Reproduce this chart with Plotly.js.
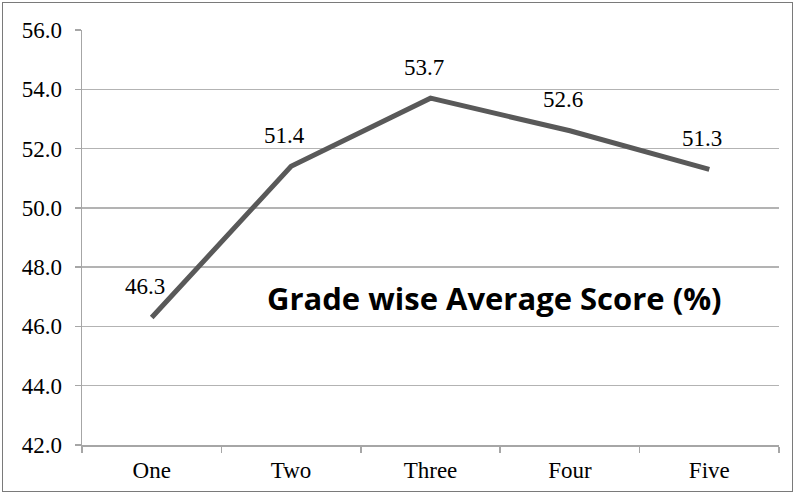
<!DOCTYPE html>
<html>
<head>
<meta charset="utf-8">
<script src="https://cdn.plot.ly/plotly-3.0.1.min.js"></script>
<style>
html,body{margin:0;padding:0;background:#fff;}
#frame{position:absolute;left:2px;top:2px;width:789px;height:488px;border:1.5px solid #7a7a7a;pointer-events:none;z-index:10;}
#chart{position:absolute;left:0;top:0;width:795px;height:494px;}
</style>
</head>
<body>
<div id="chart"></div>
<div id="frame"></div>
<script>
const grades = ["One", "Two", "Three", "Four", "Five"];
const scores = [46.3, 51.4, 53.7, 52.6, 51.3];
const chartTitle = "Grade wise Average Score (%)";

const serif = "Liberation Serif";

const trace = {
  x: grades,
  y: scores,
  type: "scatter",
  mode: "lines",
  line: {color: "#595959", width: 5},
  hoverinfo: "skip"
};

const labelAnnotations = grades.map((g, i) => ({
  x: g, y: scores[i], xref: "x", yref: "y",
  text: scores[i].toFixed(1),
  showarrow: false,
  yshift: 31,
  xshift: -7,
  font: {family: serif, size: 23, color: "#000"}
}));

const layout = {
  width: 795, height: 494,
  margin: {l: 82, r: 16, t: 30, b: 49},
  paper_bgcolor: "#fff",
  plot_bgcolor: "#fff",
  showlegend: false,
  xaxis: {
    type: "category",
    range: [-0.5, 4.5],
    showgrid: false,
    showline: true, linecolor: "#a6a6a6", linewidth: 1.5,
    ticks: "outside", tickson: "boundaries", ticklen: 6, tickcolor: "#a6a6a6", tickwidth: 1.5,
    ticklabelstandoff: 4,
    tickfont: {family: serif, size: 23, color: "#000"},
    zeroline: false
  },
  yaxis: {
    range: [42, 56],
    dtick: 2, tick0: 42,
    tickformat: ".1f",
    showgrid: true, gridcolor: "#b3b3b3", gridwidth: 1.5,
    showline: true, linecolor: "#a6a6a6", linewidth: 1.5,
    ticks: "outside", ticklen: 6, tickcolor: "#a6a6a6", tickwidth: 1.5,
    ticklabelstandoff: 8,
    tickfont: {family: serif, size: 23, color: "#000"},
    zeroline: false
  },
  annotations: labelAnnotations.concat([{
    x: 0.5925, y: 0.354, xref: "paper", yref: "paper",
    xanchor: "center", yanchor: "middle",
    text: "<b>" + chartTitle + "</b>",
    showarrow: false,
    font: {family: "Open Sans", size: 31, color: "#000"}
  }])
};

Plotly.newPlot("chart", [trace], layout, {displayModeBar: false, staticPlot: true});
</script>
</body>
</html>
